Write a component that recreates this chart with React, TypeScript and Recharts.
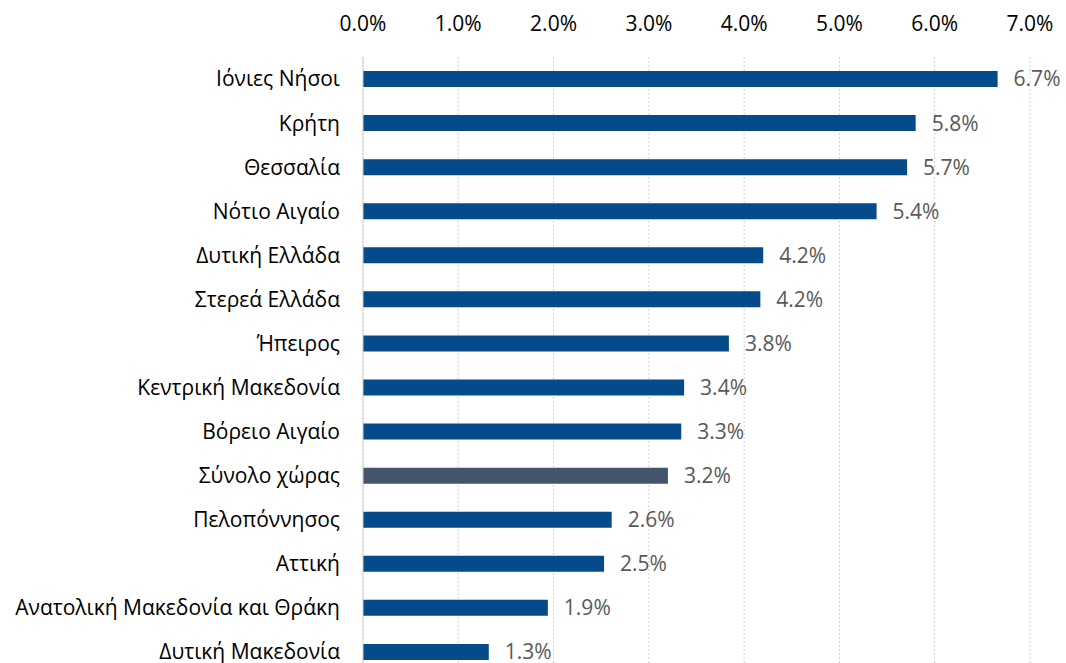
import React from 'react';
import { BarChart, Bar, XAxis, YAxis, CartesianGrid, Cell, LabelList } from 'recharts';

const regions = [
  'Ιόνιες Νήσοι',
  'Κρήτη',
  'Θεσσαλία',
  'Νότιο Αιγαίο',
  'Δυτική Ελλάδα',
  'Στερεά Ελλάδα',
  'Ήπειρος',
  'Κεντρική Μακεδονία',
  'Βόρειο Αιγαίο',
  'Σύνολο χώρας',
  'Πελοπόννησος',
  'Αττική',
  'Ανατολική Μακεδονία και Θράκη',
  'Δυτική Μακεδονία'
];

const values = [6.66, 5.8, 5.71, 5.39, 4.2, 4.17, 3.84, 3.37, 3.34, 3.2, 2.61, 2.53, 1.94, 1.32];

const xTicks = [0, 1, 2, 3, 4, 5, 6, 7];

const data = regions.map((name, i) => ({ name, value: values[i] }));

const font = '"Open Sans", "Noto Sans", sans-serif';

const App = () => {
  return (
    <div style={{ position: 'absolute', left: 0, top: 0, width: 1066, height: 663, overflow: 'hidden', background: '#fff' }}>
      <BarChart
        width={1066}
        height={680}
        data={data}
        layout="vertical"
        margin={{ top: 0, right: 36, bottom: 6, left: 0 }}
      >
        <CartesianGrid horizontal={false} stroke="#d0d0d0" strokeDasharray="2 2" />
        <XAxis
          type="number"
          orientation="top"
          domain={[0, 7]}
          ticks={xTicks}
          height={57}
          axisLine={false}
          tickLine={false}
          tickMargin={20}
          tickFormatter={(v: number) => v.toFixed(1) + '%'}
          tick={{ fill: '#000', fontSize: 21, fontFamily: font }}
        />
        <YAxis
          type="category"
          dataKey="name"
          width={363}
          axisLine={{ stroke: '#d0d0d0' }}
          tickLine={false}
          tickMargin={17}
          interval={0}
          tick={{ fill: '#000', fontSize: 21, fontFamily: font }}
        />
        <Bar dataKey="value" barSize={16} isAnimationActive={false}>
          {data.map((d) => (
            <Cell key={d.name} fill={d.name === 'Σύνολο χώρας' ? '#44546a' : '#054a8a'} />
          ))}
          <LabelList
            dataKey="value"
            position="right"
            offset={16}
            formatter={(v: number) => v.toFixed(1) + '%'}
            style={{ fill: '#595959', fontSize: 21, fontFamily: font }}
          />
        </Bar>
      </BarChart>
    </div>
  );
};

export default App;
